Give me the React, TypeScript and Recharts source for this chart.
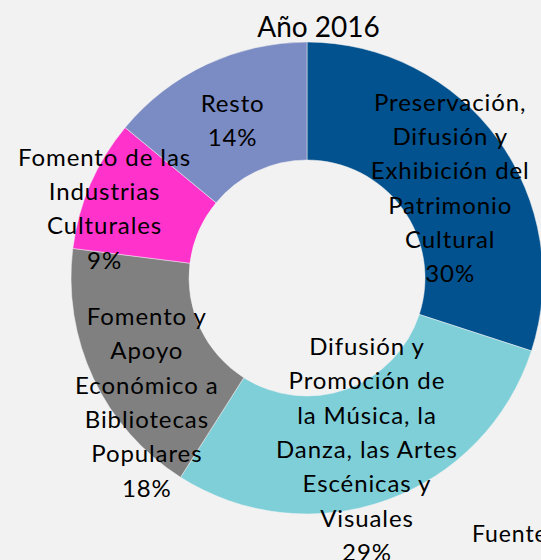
import React from "react";
import { PieChart, Pie, Cell } from "recharts";

const categories = [
  "Preservación, Difusión y Exhibición del Patrimonio Cultural",
  "Difusión y Promoción de la Música, la Danza, las Artes Escénicas y Visuales",
  "Fomento y Apoyo Económico a Bibliotecas Populares",
  "Fomento de las Industrias Culturales",
  "Resto",
];
const categoryLines = [
  ["Preservación,", "Difusión y", "Exhibición del", "Patrimonio", "Cultural"],
  ["Difusión y", "Promoción de", "la Música, la", "Danza, las Artes", "Escénicas y", "Visuales"],
  ["Fomento y", "Apoyo", "Económico a", "Bibliotecas", "Populares"],
  ["Fomento de las", "Industrias", "Culturales"],
  ["Resto"],
];
const values = [30, 29, 18, 9, 14];
const colors = ["#02528f", "#7fcfd9", "#808080", "#ff33cc", "#7b8bc3"];
const titleText = "Año 2016";
const sourceText = "Fuente";

// label nudges (styling, px)
const labelNudge = [
  [0, 13],
  [0, 4],
  [0, 48],
  [-40, 0],
  [1, 2],
];

const data = categories.map((name, i) => ({ name, value: values[i], idx: i }));

const FONT = "Lato, 'Open Sans', sans-serif";
const RAD = Math.PI / 180;
const LINE_H = 34.3;

const renderLabel = (props: any) => {
  const { cx, cy, midAngle, innerRadius, outerRadius, percent, index } = props;
  const r = (innerRadius + outerRadius) / 2;
  const x0 = cx + r * Math.cos(-midAngle * RAD) + labelNudge[index][0];
  const y0 = cy + r * Math.sin(-midAngle * RAD) + labelNudge[index][1];
  const lines = [...categoryLines[index], Math.round(percent * 100) + "%"];
  const n = lines.length;
  return (
    <text
      x={x0}
      y={y0}
      textAnchor="middle"
      fontFamily={FONT}
      fontSize={24}
      letterSpacing={0.9}
      fill="#000"
    >
      {lines.map((l, k) => (
        <tspan key={k} x={x0} y={y0 + (k - (n - 1) / 2) * LINE_H} dominantBaseline="central">
          {l}
        </tspan>
      ))}
    </text>
  );
};

export default function App() {
  return (
    <div
      style={{
        position: "absolute",
        left: 0,
        top: 0,
        width: 541,
        height: 560,
        background: "#f2f2f2",
        overflow: "hidden",
      }}
    >
      <PieChart width={541} height={560} margin={{ top: 0, right: 0, bottom: 0, left: 0 }}>
        <Pie
          data={data}
          dataKey="value"
          nameKey="name"
          cx={307}
          cy={278}
          innerRadius={118}
          outerRadius={236}
          startAngle={90}
          endAngle={-270}
          stroke="#f2f2f2"
          strokeWidth={0.5}
          label={renderLabel}
          labelLine={false}
          isAnimationActive={false}
        >
          {data.map((d, i) => (
            <Cell key={i} fill={colors[i]} />
          ))}
        </Pie>
      </PieChart>
      <div
        style={{
          position: "absolute",
          left: 0,
          width: 637,
          top: 8,
          textAlign: "center",
          fontFamily: FONT,
          fontSize: 28,
          color: "#000",
          lineHeight: "36px",
        }}
      >
        {titleText}
      </div>
      <div
        style={{
          position: "absolute",
          left: 472,
          top: 518,
          fontFamily: FONT,
          fontSize: 23,
          letterSpacing: 0.9,
          color: "#000",
          lineHeight: "30px",
          whiteSpace: "nowrap",
        }}
      >
        {sourceText}
      </div>
    </div>
  );
}
